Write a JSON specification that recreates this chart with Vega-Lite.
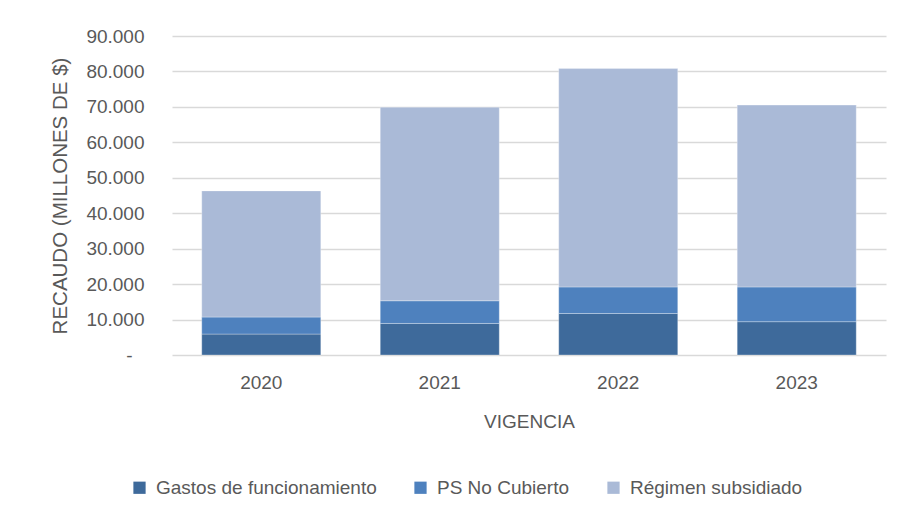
{
  "$schema": "https://vega.github.io/schema/vega-lite/v6.json",
  "width": 714,
  "height": 319,
  "autosize": "none",
  "padding": {"left": 172, "top": 36, "right": 17, "bottom": 165},
  "background": "#ffffff",
  "config": {
    "locale": {"number": {"decimal": ",", "thousands": ".", "grouping": [3], "currency": ["$", ""]}},
    "font": "Liberation Sans, Arial, sans-serif",
    "view": {"stroke": null},
    "axis": {"labelColor": "#595959", "titleColor": "#595959", "labelFont": "Liberation Sans, Arial", "titleFont": "Liberation Sans, Arial", "labelFontSize": 19, "titleFontSize": 19, "titleFontWeight": "normal"},
    "legend": {"labelColor": "#595959", "labelFont": "Liberation Sans, Arial", "labelFontSize": 19, "labelLimit": 400}
  },
  "data": {
    "values": [
      {"vigencia": "2020", "serie": "Gastos de funcionamiento", "orden": 1, "valor": 5900},
      {"vigencia": "2020", "serie": "PS No Cubierto", "orden": 2, "valor": 4800},
      {"vigencia": "2020", "serie": "Régimen subsidiado", "orden": 3, "valor": 35600},
      {"vigencia": "2021", "serie": "Gastos de funcionamiento", "orden": 1, "valor": 8900},
      {"vigencia": "2021", "serie": "PS No Cubierto", "orden": 2, "valor": 6400},
      {"vigencia": "2021", "serie": "Régimen subsidiado", "orden": 3, "valor": 54600},
      {"vigencia": "2022", "serie": "Gastos de funcionamiento", "orden": 1, "valor": 11700},
      {"vigencia": "2022", "serie": "PS No Cubierto", "orden": 2, "valor": 7500},
      {"vigencia": "2022", "serie": "Régimen subsidiado", "orden": 3, "valor": 61600},
      {"vigencia": "2023", "serie": "Gastos de funcionamiento", "orden": 1, "valor": 9400},
      {"vigencia": "2023", "serie": "PS No Cubierto", "orden": 2, "valor": 9800},
      {"vigencia": "2023", "serie": "Régimen subsidiado", "orden": 3, "valor": 51300}
    ]
  },
  "mark": {"type": "bar", "stroke": "#ffffff", "strokeWidth": 0.6, "strokeOpacity": 0.5},
  "encoding": {
    "x": {
      "field": "vigencia",
      "type": "nominal",
      "scale": {"paddingInner": 0.333, "paddingOuter": 0.1667},
      "axis": {"title": "VIGENCIA", "labelAngle": 0, "domain": false, "ticks": false, "labelPadding": 18, "titlePadding": 20}
    },
    "y": {
      "field": "valor",
      "type": "quantitative",
      "aggregate": "sum",
      "stack": "zero",
      "scale": {"domain": [0, 90000], "nice": false},
      "axis": {
        "title": "RECAUDO (MILLONES DE $)",
        "titleFontSize": 20.5,
        "values": [0, 10000, 20000, 30000, 40000, 50000, 60000, 70000, 80000, 90000],
        "format": ",.0f",
        "labelExpr": "datum.value == 0 ? '-' : datum.label",
        "labelPadding": {"condition": {"test": "datum.value == 0", "value": 40}, "value": 28},
        "domain": false,
        "ticks": false,
        "titlePadding": 15,
        "gridColor": "#D9D9D9",
        "gridWidth": 1.5
      }
    },
    "color": {
      "field": "serie",
      "type": "nominal",
      "scale": {"domain": ["Gastos de funcionamiento", "PS No Cubierto", "Régimen subsidiado"], "range": ["#3E6A9B", "#4E81BE", "#AABAD7"]},
      "legend": {"title": null, "orient": "none", "direction": "horizontal", "legendX": -42, "legendY": 442, "symbolType": "square", "symbolSize": 150, "symbolStrokeWidth": 0, "labelOffset": 7, "columnPadding": 34}
    },
    "order": {"field": "orden", "type": "quantitative", "sort": "ascending"}
  }
}
